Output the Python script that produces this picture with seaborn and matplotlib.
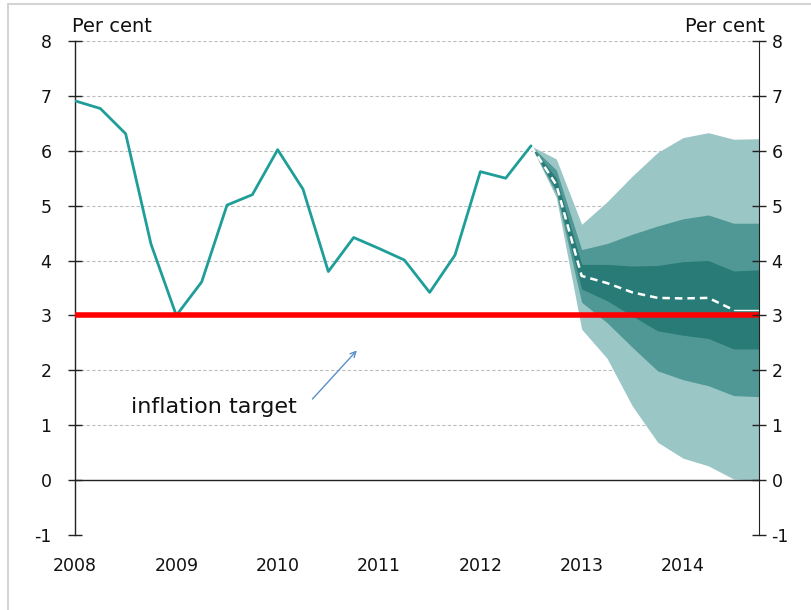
import numpy as np
import pandas as pd
import matplotlib
matplotlib.use('Agg')
import matplotlib.pyplot as plt
from matplotlib.lines import Line2D
import seaborn as sns

# --- datos (trimestres desde 2008 T1 = 0) ---
year_labels = ['2008', '2009', '2010', '2011', '2012', '2013', '2014']
history_cpi = [6.91, 6.77, 6.31, 4.30, 3.00, 3.61, 5.01, 5.20, 6.02, 5.30,
               3.80, 4.42, 4.22, 4.01, 3.42, 4.10, 5.62, 5.50, 6.09]
fan_start = 18
central = [6.09, 5.38, 3.72, 3.59, 3.42, 3.32, 3.31, 3.32, 3.10, 3.10]
dark_hi = [6.09, 5.50, 3.93, 3.93, 3.90, 3.91, 3.98, 4.00, 3.81, 3.83]
dark_lo = [6.09, 5.28, 3.48, 3.27, 2.99, 2.72, 2.64, 2.58, 2.39, 2.39]
mid_hi = [6.09, 5.65, 4.20, 4.31, 4.48, 4.63, 4.76, 4.83, 4.68, 4.68]
mid_lo = [6.09, 5.22, 3.24, 2.87, 2.42, 1.99, 1.83, 1.72, 1.54, 1.52]
out_hi = [6.09, 5.85, 4.66, 5.07, 5.54, 5.97, 6.24, 6.33, 6.21, 6.22]
out_lo = [6.09, 5.15, 2.75, 2.22, 1.35, 0.69, 0.40, 0.26, 0.02, 0.00]
target = 3.0

# --- estilo ---
sns.set_style('white')
plt.rcParams['font.family'] = ['DejaVu Sans']
plt.rcParams['axes.unicode_minus'] = False
TEXT = '#111111'
TEAL = '#1f9e99'
FAN_COLORS = ['#9ac6c5', '#4f9895', '#287b77']

hist = pd.DataFrame({'q': np.arange(len(history_cpi)), 'cpi': history_cpi})
fan = pd.DataFrame({'q': np.arange(fan_start, fan_start + len(central)),
                    'central': central,
                    'dark_hi': dark_hi, 'dark_lo': dark_lo,
                    'mid_hi': mid_hi, 'mid_lo': mid_lo,
                    'out_hi': out_hi, 'out_lo': out_lo})
n_q = int(fan['q'].max())

fig, ax = plt.subplots(figsize=(8.12, 6.1), dpi=100)
fig.subplots_adjust(left=75 / 812, right=759 / 812, top=1 - 41 / 610, bottom=1 - 535 / 610)

ax.set_xlim(0, n_q)
ax.set_ylim(-1, 8)

# rejilla
for v in range(1, 9):
    ax.axhline(v, color='#bdbdbd', lw=0.8, ls=(0, (3, 2)), zorder=0)
ax.axhline(-1, color='#d6d6d6', lw=0.8, ls=(0, (1, 1)), zorder=0)

# abanico
ax.fill_between(fan['q'], fan['out_lo'], fan['out_hi'], color=FAN_COLORS[0], lw=0, zorder=2)
ax.fill_between(fan['q'], fan['mid_lo'], fan['mid_hi'], color=FAN_COLORS[1], lw=0, zorder=3)
ax.fill_between(fan['q'], fan['dark_lo'], fan['dark_hi'], color=FAN_COLORS[2], lw=0, zorder=4)
proj = fan.iloc[:-1]
ax.plot(proj['q'], proj['central'], color='white', lw=1.8, ls=(0, (3, 2)), zorder=5)
ax.plot(fan['q'].iloc[-2:], fan['central'].iloc[-2:], color='white', lw=1.0, zorder=5)

# historia
sns.lineplot(data=hist, x='q', y='cpi', ax=ax, color=TEAL, lw=2, zorder=6)

# objetivo de inflación
ax.axhline(target, color='#ff0000', lw=4, zorder=7)

ax.text(2.2, 1.33, 'inflation target', fontsize=16, va='center', ha='left', color=TEXT)
ax.annotate('', xy=(11.2, 2.4), xytext=(9.3, 1.44),
            arrowprops=dict(arrowstyle='->', color='#5b8fc9', lw=1.0))

# ejes
ax.set_xlabel('')
ax.set_ylabel('')
ax.spines['top'].set_visible(False)
ax.spines['right'].set_visible(False)
ax.spines['bottom'].set_position(('data', 0))
for s in ['left', 'bottom']:
    ax.spines[s].set_color('#222222')
    ax.spines[s].set_linewidth(1.0)
ax.set_xticks(np.arange(0, n_q + 1))
ax.set_xticklabels([])
ax.tick_params(axis='x', direction='out', length=6, width=1, color='#222222')
ax.set_yticks(np.arange(-1, 9))
ax.tick_params(axis='y', direction='inout', length=10, width=1, color='#222222',
               labelsize=12.5, pad=12, labelcolor=TEXT)

ax2 = ax.twinx()
ax2.set_ylim(ax.get_ylim())
ax2.set_yticks(np.arange(-1, 9))
ax2.tick_params(axis='y', direction='inout', length=10, width=1, color='#222222',
                labelsize=12.5, pad=4, labelcolor=TEXT)
for s in ['top', 'left', 'bottom']:
    ax2.spines[s].set_visible(False)
ax2.spines['right'].set_color('#222222')

sec = ax.secondary_xaxis(0)
sec.set_xticks(np.arange(0, 4 * len(year_labels), 4))
sec.set_xticklabels(year_labels)
sec.tick_params(length=0, labelsize=12.5, pad=16, labelcolor=TEXT)
sec.spines['bottom'].set_visible(False)

fig.text(72 / 812, 1 - 32 / 610, 'Per cent', fontsize=14, ha='left', va='baseline', color=TEXT)
fig.text(765 / 812, 1 - 32 / 610, 'Per cent', fontsize=14, ha='right', va='baseline', color=TEXT)

# marco gris
fig.add_artist(Line2D([8 / 812, 1], [1 - 4 / 610, 1 - 4 / 610], color='#d4d4d4', lw=1.5,
                      transform=fig.transFigure))
fig.add_artist(Line2D([8 / 812, 8 / 812], [0, 1 - 4 / 610], color='#d4d4d4', lw=1.5,
                      transform=fig.transFigure))

fig.savefig('out.png', dpi=100)
